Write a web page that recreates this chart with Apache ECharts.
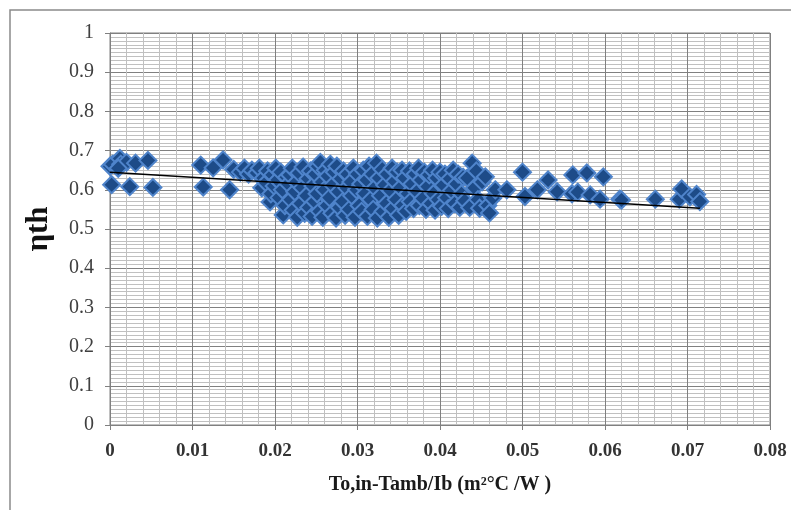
<!DOCTYPE html>
<html>
<head>
<meta charset="utf-8">
<script src="https://cdn.jsdelivr.net/npm/echarts@6/dist/echarts.min.js"></script>
<style>
  html, body { margin: 0; padding: 0; background: #ffffff; }
  #chart { width: 791px; height: 510px; }
</style>
</head>
<body>
<div id="chart"></div>
<script>
// Reduced temperature parameter (To,in - Tamb)/Ib, m²°C/W
const xValues = [
  0.0000, 0.0003, 0.0012, 0.0013, 0.0020, 0.0031, 0.0046, 0.0002, 0.0024, 0.0052, 0.0010,
  0.0110, 0.0113, 0.0125, 0.0137, 0.0145,
  0.0150, 0.0158, 0.0163, 0.0168, 0.0172, 0.0178, 0.0181, 0.0184, 0.0186, 0.0189, 0.0191, 0.0194, 0.0195, 0.0197, 0.0199,
  0.0201, 0.0203, 0.0205, 0.0207, 0.0209, 0.0210, 0.0212, 0.0214, 0.0216, 0.0218, 0.0219, 0.0221, 0.0222, 0.0224, 0.0226,
  0.0227, 0.0229, 0.0231, 0.0233, 0.0234, 0.0236, 0.0238, 0.0240, 0.0241, 0.0243, 0.0245, 0.0246, 0.0248, 0.0249,
  0.0251, 0.0252, 0.0254, 0.0255, 0.0257, 0.0258, 0.0260, 0.0261, 0.0263, 0.0264, 0.0266, 0.0267, 0.0269, 0.0270, 0.0272,
  0.0274, 0.0275, 0.0277, 0.0278, 0.0280, 0.0282, 0.0283, 0.0285, 0.0287, 0.0288, 0.0290, 0.0292, 0.0293, 0.0295, 0.0297, 0.0299,
  0.0300, 0.0302, 0.0304, 0.0305, 0.0307, 0.0309, 0.0311, 0.0312, 0.0314, 0.0316, 0.0318, 0.0319, 0.0321, 0.0323, 0.0324,
  0.0326, 0.0328, 0.0330, 0.0331, 0.0333, 0.0335, 0.0336, 0.0338, 0.0340, 0.0342, 0.0343, 0.0345, 0.0347, 0.0348, 0.0350,
  0.0352, 0.0354, 0.0355, 0.0357, 0.0359, 0.0361, 0.0363, 0.0364, 0.0366, 0.0368, 0.0370, 0.0372, 0.0374, 0.0375, 0.0377,
  0.0379, 0.0381, 0.0383, 0.0385, 0.0387, 0.0389, 0.0391, 0.0392, 0.0394, 0.0396, 0.0398,
  0.0400, 0.0402, 0.0404, 0.0406, 0.0408, 0.0410, 0.0412, 0.0414, 0.0416, 0.0418, 0.0420, 0.0422, 0.0424, 0.0426, 0.0428,
  0.0430, 0.0433, 0.0436, 0.0439, 0.0442, 0.0444, 0.0446, 0.0448, 0.0451, 0.0455, 0.0458, 0.0460, 0.0464, 0.0467,
  0.0481, 0.0500, 0.0503, 0.0518, 0.0531, 0.0542, 0.0561, 0.0560, 0.0567, 0.0578, 0.0582, 0.0594, 0.0598, 0.0618,
  0.0620, 0.0661, 0.0690, 0.0693, 0.0703, 0.0711, 0.0715
];

// Thermal efficiency ηth for each sample
const etaValues = [
  0.660, 0.665, 0.680, 0.665, 0.670, 0.668, 0.675, 0.613, 0.608, 0.606, 0.655,
  0.663, 0.607, 0.656, 0.676, 0.600,
  0.652, 0.645, 0.655, 0.640, 0.650, 0.643, 0.655, 0.605, 0.630, 0.618, 0.648, 0.569, 0.590, 0.638, 0.610,
  0.655, 0.625, 0.580, 0.645, 0.600, 0.536, 0.560, 0.632, 0.615, 0.638, 0.575, 0.655, 0.548, 0.595, 0.620,
  0.530, 0.643, 0.565, 0.605, 0.658, 0.540, 0.585, 0.628, 0.555, 0.648, 0.532, 0.610, 0.570, 0.640,
  0.590, 0.660, 0.545, 0.670, 0.620, 0.530, 0.600, 0.650, 0.560, 0.635, 0.580, 0.665, 0.540, 0.612, 0.645,
  0.528, 0.660, 0.595, 0.555, 0.628, 0.570, 0.648, 0.535, 0.605, 0.640, 0.550, 0.620, 0.585, 0.655, 0.530, 0.600,
  0.640, 0.560, 0.615, 0.545, 0.650, 0.590, 0.625, 0.532, 0.660, 0.575, 0.640, 0.550, 0.605, 0.668, 0.528,
  0.630, 0.585, 0.652, 0.545, 0.612, 0.565, 0.640, 0.530, 0.598, 0.655, 0.552, 0.622, 0.575, 0.645, 0.535,
  0.605, 0.650, 0.560, 0.630, 0.545, 0.590, 0.648, 0.570, 0.615, 0.552, 0.640, 0.595, 0.655, 0.560, 0.625,
  0.578, 0.645, 0.550, 0.608, 0.638, 0.565, 0.650, 0.590, 0.548, 0.630, 0.575,
  0.645, 0.558, 0.612, 0.640, 0.580, 0.552, 0.628, 0.598, 0.650, 0.565, 0.615, 0.640, 0.555, 0.590, 0.632,
  0.572, 0.630, 0.555, 0.668, 0.605, 0.648, 0.575, 0.553, 0.620, 0.633, 0.560, 0.541, 0.579, 0.600,
  0.600, 0.645, 0.583, 0.600, 0.625, 0.595, 0.638, 0.590, 0.594, 0.643, 0.587, 0.576, 0.633, 0.576,
  0.574, 0.576, 0.576, 0.602, 0.582, 0.588, 0.570
];

// Linear trend line end points [x, ηth]
const trendStart = [0.0, 0.645];
const trendEnd = [0.0715, 0.553];

const xTicks = { min: 0, max: 0.08, interval: 0.01 };
const yTicks = { min: 0, max: 1, interval: 0.1 };

const samples = xValues.map((x, i) => [x, etaValues[i]]);

const chart = echarts.init(document.getElementById('chart'), null, { renderer: 'canvas' });

const serif = '"Liberation Serif", "DejaVu Serif", serif';

chart.setOption({
  animation: false,
  backgroundColor: '#ffffff',
  graphic: [{
    type: 'rect',
    shape: { x: 10, y: 10, width: 820, height: 540 },
    style: { fill: 'none', stroke: '#8a8a8a', lineWidth: 1.5 },
    silent: true,
    z: -10
  }],
  grid: { left: 110, right: 21, top: 33, bottom: 85, containLabel: false,
          show: true, borderColor: '#808080', borderWidth: 1 },
  xAxis: {
    type: 'value',
    min: xTicks.min, max: xTicks.max, interval: xTicks.interval,
    name: 'To,in-Tamb/Ib (m²°C /W )',
    nameLocation: 'middle',
    nameGap: 50,
    nameTextStyle: { fontFamily: serif, fontWeight: 'bold', fontSize: 20, color: '#1a1a1a' },
    axisLine: { show: true, lineStyle: { color: '#808080', width: 1 } },
    axisTick: { show: true, length: 5, inside: false, lineStyle: { color: '#808080' } },
    minorTick: { show: false, splitNumber: 5 },
    axisLabel: {
      fontFamily: serif, fontWeight: 'bold', fontSize: 19, color: '#333333', margin: 17,
      formatter: v => (v === 0 ? '0' : v.toFixed(2))
    },
    splitLine: { show: true, lineStyle: { color: '#808080', width: 1 } },
    minorSplitLine: { show: true, lineStyle: { color: '#c0c0c0', width: 1 } }
  },
  yAxis: {
    type: 'value',
    min: yTicks.min, max: yTicks.max, interval: yTicks.interval,
    name: 'ηth',
    nameLocation: 'middle',
    nameGap: 56,
    nameRotate: 90,
    nameTextStyle: { fontFamily: serif, fontWeight: 'bold', fontSize: 31, color: '#111111' },
    axisLine: { show: true, lineStyle: { color: '#808080', width: 1 } },
    axisTick: { show: true, length: 5, lineStyle: { color: '#808080' } },
    minorTick: { show: false, splitNumber: 10 },
    axisLabel: {
      fontFamily: serif, fontSize: 20, color: '#404040', margin: 16,
      formatter: v => (v === 0 || v === 1 ? String(v) : v.toFixed(1))
    },
    splitLine: { show: true, lineStyle: { color: '#808080', width: 1 } },
    minorSplitLine: { show: true, lineStyle: { color: '#c0c0c0', width: 1 } }
  },
  series: [
    {
      type: 'scatter',
      data: samples,
      symbol: 'diamond',
      symbolSize: 17,
      itemStyle: { color: '#1d4b88', borderColor: '#4f84cb', borderWidth: 2, opacity: 1 },
      z: 2
    },
    {
      type: 'line',
      data: [trendStart, trendEnd],
      showSymbol: false,
      symbol: 'none',
      lineStyle: { color: '#000000', width: 1.5 },
      z: 3
    }
  ]
});
</script>
</body>
</html>
